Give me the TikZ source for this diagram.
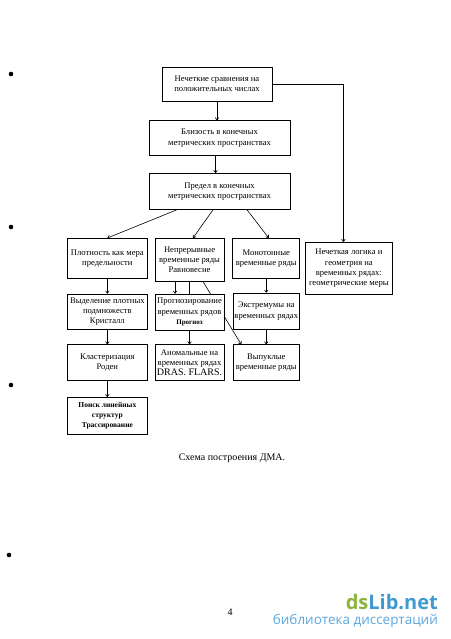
\documentclass[tikz,border=0pt]{standalone}
\usepackage{fontspec}
\setmainfont{Liberation Serif}
\newfontfamily\wmfont{Open Sans}
\usetikzlibrary{backgrounds,calc,positioning,arrows.meta}

\definecolor{dsgreen}{HTML}{8AB43C}
\definecolor{dsblue}{HTML}{3E9BD0}
\definecolor{dssub}{HTML}{5AA7DC}

\tikzset{
  blk/.style={draw, line width=0.7pt, fill=white, align=center, inner sep=1pt,
    font=\fontsize{8.6}{10.3}\selectfont},
  link/.style={line width=0.6pt, -{To[length=3pt,width=4pt]}},
}

\begin{document}
\begin{tikzpicture}[x=1pt, y=-1pt]
  \useasboundingbox (0,0) rectangle (450,639);

  % main chain
  \node[blk, minimum width=110pt, minimum height=34pt] (cmp) at (217,84) {Нечеткие сравнения на\\положительных числах};
  \node[blk, minimum width=141pt, minimum height=35pt, below=19pt of cmp, xshift=2.5pt] (near) {Близость в конечных\\метрических пространствах};
  \node[blk, minimum width=141pt, minimum height=36pt, below=17pt of near] (lim) {Предел в конечных\\метрических пространствах};

  % first row
  \node[blk, minimum width=80pt, minimum height=40pt, anchor=north west] (dens) at (67,238) {Плотность как мера\\предельности};
  \node[blk, minimum width=69pt, minimum height=43pt, anchor=north west] (cont) at ([xshift=7pt]dens.north east) {Непрерывные\\временные ряды\\Равновесие};
  \node[blk, minimum width=67pt, minimum height=40pt, anchor=north west] (mono) at ([xshift=8pt]cont.north east) {Монотонные\\временные ряды};
  \node[blk, minimum width=87pt, minimum height=52pt, anchor=north west] (fuzz) at (305,242) {Нечеткая логика и\\геометрия на\\временных рядах:\\геометрические меры};

  % lower rows
  \node[blk, minimum width=80pt, minimum height=35pt, below=15pt of dens] (sel) {Выделение плотных\\подмножеств\\Кристалл};
  \node[blk, minimum width=69pt, minimum height=36pt, below=12pt of cont] (fcst) {Прогнозирование\\временных рядов\\{\fontsize{7}{8}\selectfont\bfseries Прогноз}};
  \node[blk, minimum width=66pt, minimum height=36pt, below=14pt of mono] (extr) {Экстремумы на\\временных рядах};
  \node[blk, minimum width=80pt, minimum height=36pt, below=15pt of sel] (clus) {Кластеризация\\Роден};
  \node[blk, minimum width=69pt, minimum height=36pt, below=14pt of fcst] (anom) {Аномальные на\\временных рядах\\{\fontsize{10}{11}\selectfont DRAS. FLARS.}};
  \node[blk, minimum width=66pt, minimum height=36pt, below=15pt of extr] (conv) {Выпуклые\\временные ряды};
  \node[blk, minimum width=80pt, minimum height=37pt, below=16pt of clus, font=\fontsize{7.5}{10}\selectfont\bfseries] (srch) {Поиск линейных\\структур\\Трассирование};

  % connectors
  \draw[link] (cmp.south) -- (cmp.south |- near.north);
  \draw[link] ([xshift=-4pt]near.south) -- ([xshift=-4pt]lim.north);
  \draw[link] ([xshift=-42.5pt]lim.south) -- (dens.north);
  \draw[link] ([xshift=-6.5pt]lim.south) -- ([xshift=3.5pt]cont.north);
  \draw[link] ([xshift=27.5pt]lim.south) -- ([xshift=2.5pt]mono.north);
  \draw[link] (cmp.east) -| ([xshift=-5.5pt]fuzz.north);

  \draw[link] (dens) -- (sel);
  \draw[link] (sel) -- (clus);
  \draw[link] (clus) -- (srch);
  \draw[link] ([xshift=-14.5pt]cont.south) -- ([xshift=-14.5pt]fcst.north);
  \draw[line width=0.6pt] (cont.south) -- (fcst.north);
  \draw[link] (fcst) -- (anom);
  \draw[link] (mono) -- (extr);
  \draw[link] (extr) -- (conv);
  \begin{scope}[on background layer]
    \draw[link] ([xshift=13.5pt]cont.south) -- ([xshift=-25pt]conv.north);
  \end{scope}

  % page text
  \node[font=\fontsize{10}{12}\selectfont] (cap) at (232,458) {Схема построения ДМА.};
  \node[font=\fontsize{10}{12}\selectfont] (pg) at (230,612) {4};
  \node[font=\wmfont\bfseries\fontsize{20}{22}\selectfont, anchor=base east, inner sep=0pt, text depth=0pt] (wm) at (438,609) {\textcolor{dsgreen}{ds}\textcolor{dsblue}{Lib.net}};
  \node[font=\wmfont\fontsize{13.5}{15}\selectfont, text=dssub, anchor=base east, inner sep=0pt, text height=9pt] (wmsub) at (438,624) {библиотека диссертаций};

  % punch marks
  \fill (11,74) circle (2.3pt);
  \fill (11,227) circle (2.3pt);
  \fill (11,385) circle (2.3pt);
  \fill (9,555) circle (2.3pt);
\end{tikzpicture}
\end{document}
